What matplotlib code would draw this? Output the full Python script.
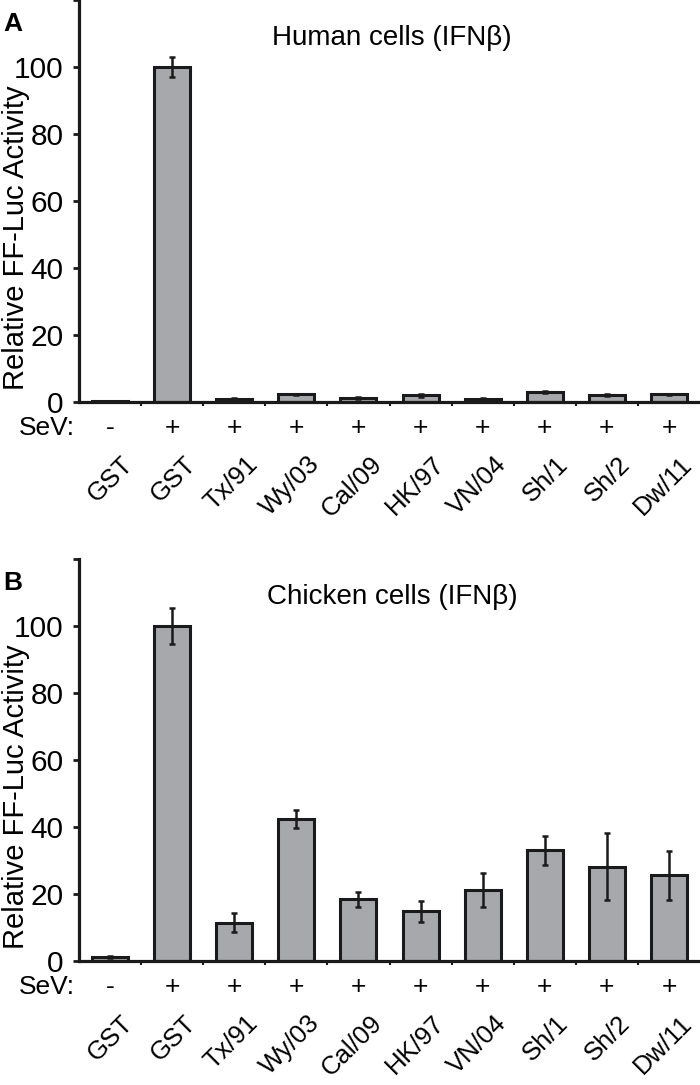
import matplotlib.pyplot as plt

plt.rcParams['font.family'] = ['Liberation Sans', 'DejaVu Sans']
NARROW = ['Liberation Sans Narrow', 'Liberation Sans', 'DejaVu Sans']

names = ['GST', 'GST', 'Tx/91', 'Wy/03', 'Cal/09', 'HK/97', 'VN/04', 'Sh/1', 'Sh/2', 'Dw/11']
sev = ['-', '+', '+', '+', '+', '+', '+', '+', '+', '+']

human = [0.3, 100, 0.85, 2.3, 1.2, 2.0, 0.85, 3.0, 2.0, 2.3]
human_err = [0.1, 3.0, 0.3, 0.2, 0.2, 0.4, 0.3, 0.3, 0.3, 0.2]

chicken = [1.2, 100, 11.4, 42.3, 18.4, 14.8, 21.1, 33.1, 28.2, 25.6]
chicken_err = [0.2, 5.3, 2.8, 2.7, 2.2, 3.2, 5.1, 4.3, 10.0, 7.3]

bar_color = '#a7a8ab'
ink = '#1a1a1a'
W, H = 700, 1085

fig = plt.figure(figsize=(7, 10.85), dpi=100)


def panel(bottom_px, vals, errs, title, letter):
    # axes spans 402 px vertically (0..120)
    ax = fig.add_axes([79 / W, (H - bottom_px) / H, 621 / W, 402 / H])
    x = list(range(len(vals)))
    ax.bar(x, vals, width=0.58, color=bar_color, edgecolor=ink, linewidth=2.2, zorder=2)
    ax.errorbar(x, vals, yerr=errs, fmt='none', ecolor=ink, elinewidth=1.8,
                capsize=2.5, capthick=1.8, zorder=3)
    ax.set_xlim(-0.5, 9.5)
    ax.set_ylim(0, 120)
    for s in ['top', 'right']:
        ax.spines[s].set_visible(False)
    for s in ['left', 'bottom']:
        ax.spines[s].set_linewidth(2.3)
        ax.spines[s].set_color(ink)
    ax.set_yticks([0, 20, 40, 60, 80, 100, 120])
    ax.set_yticklabels(['0', '20', '40', '60', '80', '100', ''], fontsize=21.5, family=NARROW)
    ax.tick_params(axis='y', direction='out', length=4, width=2, pad=7, color=ink)
    ax.set_xticks(x)
    ax.set_xticklabels([])
    ax.tick_params(axis='x', length=0)
    ax.set_xticks([i + 0.5 for i in x[:-1]], minor=True)
    ax.tick_params(axis='x', which='minor', direction='out', length=3, width=1.5, color=ink)
    ax.set_ylabel('Relative FF-Luc Activity', fontsize=21)
    ax.yaxis.set_label_coords(-0.079, 0.408)
    for i, (s, n) in enumerate(zip(sev, names)):
        ax.annotate(s, (i, 0), xycoords=('data', 'axes fraction'), xytext=(0, -19),
                    textcoords='offset points', ha='center', va='center', fontsize=19)
        ax.annotate(n, (i, 0), xycoords=('data', 'axes fraction'), xytext=(8, -36),
                    textcoords='offset points', ha='right', va='top', fontsize=18.5,
                    rotation=45, rotation_mode='anchor')
    ax.annotate('SeV:', (0, 0), xycoords='axes fraction', xytext=(-3, -19),
                textcoords='offset points', ha='right', va='center', fontsize=19)
    top_px = bottom_px - 402
    fig.text(392 / W, 1 - (top_px + 38) / H, title, ha='center', va='center', fontsize=20)
    fig.text(3 / W, 1 - (top_px + 24) / H, letter, ha='left', va='center', fontsize=19,
             fontweight='bold')
    return ax


panel(402, human, human_err, 'Human cells (IFN\u03b2)', 'A')
panel(961, chicken, chicken_err, 'Chicken cells (IFN\u03b2)', 'B')

fig.savefig('out.png', dpi=100)
